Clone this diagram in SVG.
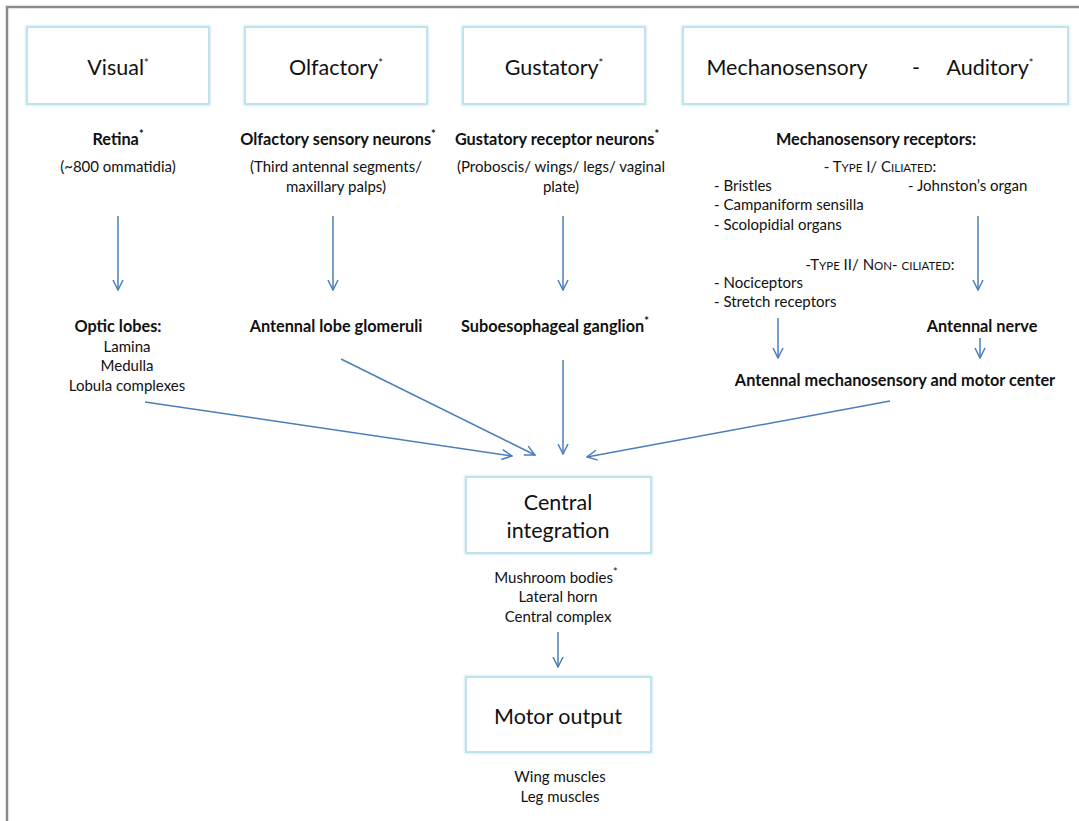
<svg xmlns="http://www.w3.org/2000/svg" width="1079" height="821" viewBox="0 0 1079 821">
<defs>
<marker id="ah" viewBox="0 0 12 12" refX="11" refY="6" markerWidth="12" markerHeight="12" markerUnits="userSpaceOnUse" orient="auto">
<path d="M1,1 L11,6 L1,11" fill="none" stroke="#4a7ebb" stroke-width="1.5"/>
</marker>
<filter id="glow" x="-10%" y="-10%" width="120%" height="120%">
<feGaussianBlur stdDeviation="1.2"/>
</filter>
</defs>
<style>
text{font-family:Lato,"Open Sans","Liberation Sans",sans-serif;fill:#111;}
.box{fill:#fff;stroke:#bfe2ef;stroke-width:2;}
.glow{fill:none;stroke:#a9d8ea;stroke-width:3;opacity:0.6;}
.h{font-size:21.5px;text-anchor:middle;}
.hb{font-size:21.5px;text-anchor:middle;}
.b{font-size:16.3px;font-weight:bold;text-anchor:middle;}
.t{font-size:15px;text-anchor:middle;}
.l{font-size:15px;}
.sc{font-size:11.5px;}
.sup{font-size:11px;}
.conn line{stroke:#4a7ebb;stroke-width:1.5;marker-end:url(#ah);}
</style>
<rect width="1079" height="821" fill="#fff"/>
<path d="M7,821 V7 H1079" fill="none" stroke="#8a8a8a" stroke-width="2.5"/>

<g id="visual">
<rect class="glow" x="27" y="27" width="182" height="77" filter="url(#glow)"/>
<rect class="box" x="27" y="27" width="182" height="77"/>
<text class="h" x="118" y="75">Visual<tspan class="sup" dy="-8">*</tspan></text>
</g>
<g id="olfactory">
<rect class="glow" x="245" y="27" width="182" height="77" filter="url(#glow)"/>
<rect class="box" x="245" y="27" width="182" height="77"/>
<text class="h" x="336" y="75">Olfactory<tspan class="sup" dy="-8">*</tspan></text>
</g>
<g id="gustatory">
<rect class="glow" x="463" y="27" width="182" height="77" filter="url(#glow)"/>
<rect class="box" x="463" y="27" width="182" height="77"/>
<text class="h" x="554" y="75">Gustatory<tspan class="sup" dy="-8">*</tspan></text>
</g>
<g id="mechano">
<rect class="glow" x="683" y="27" width="385" height="77" filter="url(#glow)"/>
<rect class="box" x="683" y="27" width="385" height="77"/>
<text class="h" x="787" y="75">Mechanosensory</text>
<text class="h" x="916" y="75">-</text>
<text class="h" x="990" y="75">Auditory<tspan class="sup" dy="-8">*</tspan></text>
</g>

<g id="retina">
<text class="b" x="118" y="145">Retina<tspan class="sup" dy="-7">*</tspan></text>
<text class="t" x="118" y="172">(~800 ommatidia)</text>
</g>
<g id="osn">
<text class="b" x="338" y="145">Olfactory sensory neurons<tspan class="sup" dy="-7">*</tspan></text>
<text class="t" x="336" y="172">(Third antennal segments/</text>
<text class="t" x="336" y="192">maxillary palps)</text>
</g>
<g id="grn">
<text class="b" x="557" y="145">Gustatory receptor neurons<tspan class="sup" dy="-7">*</tspan></text>
<text class="t" x="561" y="172">(Proboscis/ wings/ legs/ vaginal</text>
<text class="t" x="561" y="192">plate)</text>
</g>
<g id="mrec">
<text class="b" x="876" y="145">Mechanosensory receptors:</text>
<text class="t" x="880" y="172">- T<tspan class="sc">YPE</tspan> I/ C<tspan class="sc">ILIATED</tspan>:</text>
<text class="l" x="714" y="191">- Bristles</text>
<text class="l" x="714" y="210">- Campaniform sensilla</text>
<text class="l" x="714" y="230">- Scolopidial organs</text>
<text class="l" x="908" y="191">- Johnston’s organ</text>
<text class="t" x="880" y="270">-T<tspan class="sc">YPE</tspan> II/ N<tspan class="sc">ON</tspan>- <tspan class="sc">CILIATED</tspan>:</text>
<text class="l" x="714" y="288">- Nociceptors</text>
<text class="l" x="714" y="307">- Stretch receptors</text>
</g>
<g id="optic">
<text class="b" x="118" y="332">Optic lobes:</text>
<text class="t" x="127" y="352">Lamina</text>
<text class="t" x="127" y="371">Medulla</text>
<text class="t" x="127" y="391">Lobula complexes</text>
</g>
<g id="alg">
<text class="b" x="336" y="332">Antennal lobe glomeruli</text>
</g>
<g id="seg">
<text class="b" x="555" y="332">Suboesophageal ganglion<tspan class="sup" dy="-7">*</tspan></text>
</g>
<g id="an">
<text class="b" x="982" y="332">Antennal nerve</text>
</g>
<g id="amm">
<text class="b" x="895" y="386">Antennal mechanosensory and motor center</text>
</g>

<g id="central">
<rect class="glow" x="466" y="477" width="185" height="76" filter="url(#glow)"/>
<rect class="box" x="466" y="477" width="185" height="76"/>
<text class="hb" x="558" y="510">Central</text>
<text class="hb" x="558" y="538">integration</text>
<text class="t" x="556" y="583">Mushroom bodies<tspan class="sup" dy="-7">*</tspan></text>
<text class="t" x="558" y="602">Lateral horn</text>
<text class="t" x="558" y="622">Central complex</text>
</g>
<g id="motor">
<rect class="glow" x="466" y="677" width="185" height="75" filter="url(#glow)"/>
<rect class="box" x="466" y="677" width="185" height="75"/>
<text class="hb" x="558" y="724">Motor output</text>
<text class="t" x="560" y="782">Wing muscles</text>
<text class="t" x="560" y="802">Leg muscles</text>
</g>

<g class="conn" id="connectors">
<line x1="118" y1="216" x2="118" y2="290"/>
<line x1="333" y1="216" x2="333" y2="290"/>
<line x1="563" y1="216" x2="563" y2="290"/>
<line x1="978" y1="216" x2="978" y2="290"/>
<line x1="778" y1="318" x2="778" y2="358"/>
<line x1="980" y1="338" x2="980" y2="358"/>
<line x1="145" y1="402" x2="512" y2="456"/>
<line x1="341" y1="359" x2="535" y2="455"/>
<line x1="563" y1="360" x2="563" y2="454"/>
<line x1="890" y1="401" x2="587" y2="457"/>
<line x1="558" y1="632" x2="558" y2="667"/>
</g>
</svg>
